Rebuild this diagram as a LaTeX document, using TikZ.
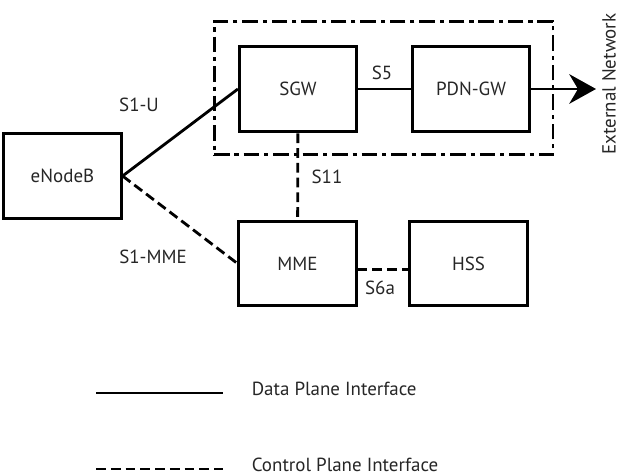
\documentclass[tikz,border=0pt]{standalone}
\usepackage{fontspec}
\setmainfont{PT Sans}
\usetikzlibrary{arrows.meta}

\begin{document}
\begin{tikzpicture}[
  every node/.style={font=\fontsize{13.5}{16}\selectfont, text=black!85, align=center},
  entity/.style={rectangle, draw=black, line width=2.1pt, minimum width=2.93cm, inner sep=3pt},
  dataif/.style={draw=black, line width=2pt},
  ctrlif/.style={draw=black, line width=2pt, dash pattern=on 7pt off 3.5pt},
  gwgroup/.style={rectangle, draw=black, line width=2pt,
                  dash pattern=on 11pt off 3.5pt on 3pt off 3.5pt}
]
  \useasboundingbox (0, 0) rectangle (15.5, 11.875);

  % Network elements
  \node[entity, minimum height=2.14cm] (enb) at (1.5625, 7.475) {eNodeB};
  \node[entity, minimum height=2.14cm] (sgw) at (7.45, 9.65) {SGW};
  \node[entity, minimum height=2.14cm] (pgw) at (11.775, 9.65) {PDN-GW};
  \node[entity, minimum height=2.11cm] (mme) at (7.4375, 5.2875) {MME};
  \node[entity, minimum height=2.11cm] (hss) at (11.7125, 5.2875) {HSS};

  % Gateway group
  \node[gwgroup, minimum width=8.47cm, minimum height=3.34cm]
    (core) at (9.5875, 9.675) {};

  % Data plane links
  \coordinate (ext) at (14.9, 9.65);
  \draw[dataif] (enb.east) -- (sgw.west);
  \draw[dataif] (sgw.east) -- (pgw.west);
  \draw[dataif, -{Stealth[length=19pt, width=21pt]}] (pgw.east) -- (ext);

  % Control plane links
  \draw[ctrlif] (enb.east) -- (mme.west);
  \draw[ctrlif] (sgw) -- (mme);
  \draw[ctrlif] ([yshift=-0.15cm]mme.east) -- ([yshift=-0.15cm]hss.west);

  % Interface labels
  \node (s1u) at (3.475, 9.25) {S1-U};
  \node (s5) at (9.55, 10.05) {S5};
  \node (s11) at (8.175, 7.45) {S11};
  \node (s1mme) at (3.825, 5.45) {S1-MME};
  \node (s6a) at (9.5, 4.675) {S6a};
  \node[rotate=90] (extnet) at (15.225, 9.775) {External Network};

  % Legend
  \coordinate (dataA) at (2.4, 2.05);
  \coordinate (dataB) at (5.575, 2.05);
  \coordinate (ctrlA) at (2.4, 0.15);
  \coordinate (ctrlB) at (5.575, 0.15);
  \draw[dataif] (dataA) -- (dataB);
  \draw[ctrlif] (ctrlA) -- (ctrlB);
  \node[anchor=west] (datatxt) at (6.17, 2.15) {Data Plane Interface};
  \node[anchor=west] (ctrltxt) at (6.17, 0.25) {Control Plane Interface};
\end{tikzpicture}
\end{document}
